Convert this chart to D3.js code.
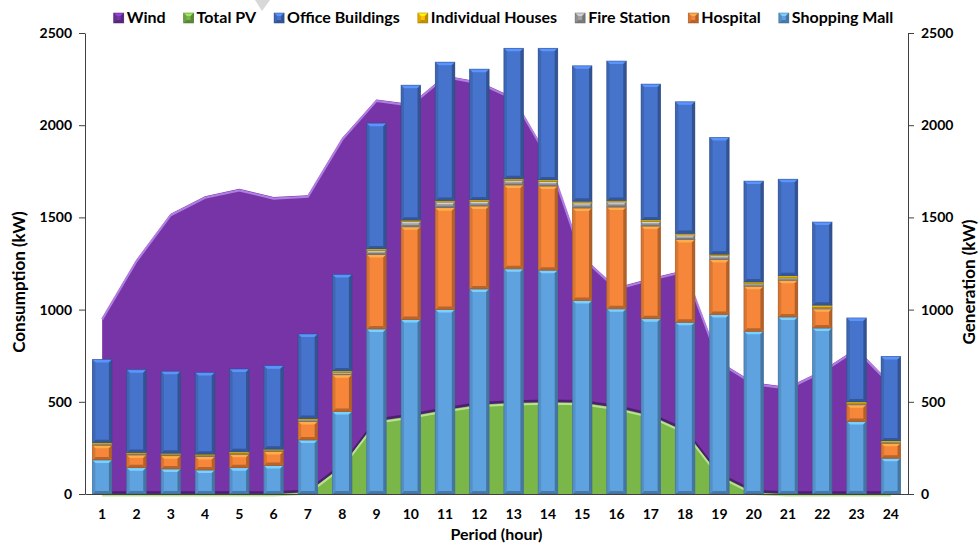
<!DOCTYPE html>
<html>
<head>
<meta charset="utf-8">
<script src="https://cdn.jsdelivr.net/npm/d3@7"></script>
<style>
  body { margin: 0; background: #fff; }
  svg text { font-family: Lato, "Open Sans", sans-serif; font-weight: bold; fill: #000; }
</style>
</head>
<body>
<svg id="chart" width="979" height="545"></svg>
<script>
// hours on the x axis
var hours = ["1","2","3","4","5","6","7","8","9","10","11","12","13","14","15","16","17","18","19","20","21","22","23","24"]

// generation (kW)
var wind    = [955, 1270, 1520, 1615, 1655, 1610, 1620, 1930, 2140, 2115, 2270, 2235, 2150, 1830, 1290, 1120, 1170, 1215, 720, 605, 580, 670, 790, 600]
var totalPV = [0, 0, 0, 0, 0, 0, 10, 150, 395, 422, 455, 484, 494, 497, 495, 468, 425, 340, 100, 8, 0, 0, 0, 0]

// consumption (kW), stacked bottom to top
var shoppingMall     = [185, 143, 136, 130, 143, 154, 293, 447, 895, 946, 1000, 1112, 1221, 1214, 1049, 1004, 951, 931, 973, 882, 960, 900, 393, 194]
var hospital         = [80, 69, 72, 73, 73, 76, 100, 200, 404, 503, 553, 450, 455, 456, 502, 552, 502, 449, 299, 245, 199, 104, 91, 81]
var fireStation      = [5, 5, 5, 5, 5, 5, 8, 12, 22, 28, 30, 25, 25, 25, 28, 28, 25, 25, 20, 12, 12, 8, 5, 5]
var individualHouses = [8, 8, 8, 8, 8, 8, 8, 8, 8, 8, 8, 8, 8, 8, 8, 8, 8, 8, 8, 10, 12, 12, 10, 8]
var officeBuildings  = [452, 449, 444, 443, 449, 453, 459, 523, 682, 732, 751, 709, 708, 714, 735, 756, 737, 714, 633, 548, 524, 451, 456, 458]

var yTicks = [0, 500, 1000, 1500, 2000, 2500]

var stackNames = ["Shopping Mall", "Hospital", "Fire Station", "Individual Houses", "Office Buildings"]
var stackValues = [shoppingMall, hospital, fireStation, individualHouses, officeBuildings]
var legendNames = ["Wind", "Total PV", "Office Buildings", "Individual Houses", "Fire Station", "Hospital", "Shopping Mall"]

var colors = {
    "Wind": "#7634a6",
    "Total PV": "#7ab648",
    "Office Buildings": "#4673cb",
    "Individual Houses": "#ffc000",
    "Fire Station": "#a3a3a3",
    "Hospital": "#f5863a",
    "Shopping Mall": "#5fa2e0"
}

var plotLeft = 85, plotRight = 908, plotTop = 33, plotBottom = 494

var svg = d3.select("#chart")

var x = d3.scaleBand()
            .domain(hours)
            .range([plotLeft, plotRight])
            .paddingInner(0.43)
            .paddingOuter(0.215)

var y = d3.scaleLinear()
            .domain([0, 2500])
            .range([plotBottom, plotTop])

var cx = function (h) { return x(h) + x.bandwidth() / 2 }

// table for the stack
var table = hours.map(function (h, i) {
    var row = { hour: h }
    stackNames.forEach(function (n, k) { row[n] = stackValues[k][i] })
    return row
})

var windData = hours.map(function (h, i) { return { h: h, v: wind[i] } })
var pvData = hours.map(function (h, i) { return { h: h, v: totalPV[i] } })

var area = d3.area()
                .x(function (d) { return cx(d.h) })
                .y0(y(0))
                .y1(function (d) { return y(d.v) })
var line = d3.line()
                .x(function (d) { return cx(d.h) })
                .y(function (d) { return y(d.v) })

// wind area
svg.append("path")
    .datum(windData)
    .attr("d", area)
    .attr("fill", colors["Wind"])
svg.append("path")
    .datum(windData)
    .attr("d", line)
    .attr("fill", "none")
    .attr("stroke", "#b07de0")
    .attr("stroke-width", 2.2)
    .attr("transform", "translate(0,1.5)")

// PV area
svg.append("path")
    .datum(pvData)
    .attr("d", line)
    .attr("fill", "none")
    .attr("stroke", "#3b1858")
    .attr("stroke-opacity", 0.7)
    .attr("stroke-width", 2.5)
    .attr("transform", "translate(0,-1.5)")
svg.append("path")
    .datum(pvData)
    .attr("d", area)
    .attr("fill", colors["Total PV"])
svg.append("path")
    .datum(pvData)
    .attr("d", line)
    .attr("fill", "none")
    .attr("stroke", "#b8e48e")
    .attr("stroke-width", 2)
    .attr("transform", "translate(0,1.5)")

// bevelled box like the Excel 3-D effect
function bevel(g, x0, y0, w, h, color) {
    var c = d3.color(color)
    var b = Math.min(3, h / 3)
    g.append("rect")
        .attr("x", x0).attr("y", y0)
        .attr("width", w).attr("height", h)
        .attr("fill", color)
    g.append("polygon")
        .attr("points", [[x0, y0], [x0 + w, y0], [x0 + w - b, y0 + b], [x0 + b, y0 + b]].join(" "))
        .attr("fill", c.brighter(0.7))
    g.append("polygon")
        .attr("points", [[x0, y0 + h], [x0 + w, y0 + h], [x0 + w - b, y0 + h - b], [x0 + b, y0 + h - b]].join(" "))
        .attr("fill", c.darker(0.8))
    g.append("polygon")
        .attr("points", [[x0, y0], [x0 + b, y0 + b], [x0 + b, y0 + h - b], [x0, y0 + h]].join(" "))
        .attr("fill", c.darker(0.35))
    g.append("polygon")
        .attr("points", [[x0 + w, y0], [x0 + w - b, y0 + b], [x0 + w - b, y0 + h - b], [x0 + w, y0 + h]].join(" "))
        .attr("fill", c.darker(0.9))
    g.append("rect")
        .attr("x", x0).attr("y", y0)
        .attr("width", w).attr("height", h)
        .attr("fill", "none")
        .attr("stroke", c.darker(1.4))
        .attr("stroke-opacity", 0.6)
        .attr("stroke-width", 0.8)
}

var series = d3.stack().keys(stackNames)(table)
var barGroup = svg.append("g").attr("class", "bars")

series.forEach(function (s) {
    s.forEach(function (d) {
        var y1 = y(d[1]), y0 = y(d[0])
        bevel(barGroup, x(d.data.hour), y1, x.bandwidth(), y0 - y1, colors[s.key])
    })
})

// axes
var fmt = d3.format("d")
var yLeft = d3.axisLeft(y).tickValues(yTicks).tickFormat(fmt).tickSize(6).tickSizeOuter(0).tickPadding(7)
var yRight = d3.axisRight(y).tickValues(yTicks).tickFormat(fmt).tickSize(6).tickSizeOuter(0).tickPadding(7)
var xAxis = d3.axisBottom(x).tickSize(0).tickSizeOuter(0).tickPadding(15)

function styleAxis(g) {
    g.selectAll("path, line").attr("stroke", "#404040")
    g.selectAll("text").style("font-size", "14px").attr("fill", "#000")
}

svg.append("g")
    .attr("transform", "translate(" + plotLeft + ",0)")
    .call(yLeft)
    .call(styleAxis)
svg.append("g")
    .attr("transform", "translate(" + plotRight + ",0)")
    .call(yRight)
    .call(styleAxis)
svg.append("g")
    .attr("transform", "translate(0," + plotBottom + ")")
    .call(xAxis)
    .call(styleAxis)

// titles
svg.append("text")
    .attr("x", (plotLeft + plotRight) / 2)
    .attr("y", 540)
    .attr("text-anchor", "middle")
    .style("font-size", "16px")
    .text("Period (hour)")

svg.append("text")
    .attr("transform", "translate(25,282) rotate(-90)")
    .attr("text-anchor", "middle")
    .style("font-size", "17px")
    .text("Consumption (kW)")

svg.append("text")
    .attr("transform", "translate(975,282) rotate(-90)")
    .attr("text-anchor", "middle")
    .style("font-size", "17px")
    .text("Generation (kW)")

// legend
var legend = svg.append("g").attr("class", "legend")
var lx = 0
legendNames.forEach(function (n) {
    var item = legend.append("g").attr("transform", "translate(" + lx + ",0)")
    bevel(item, 0, -10, 10, 10, colors[n])
    var t = item.append("text")
        .attr("x", 13)
        .attr("y", 0)
        .style("font-size", "16px")
        .text(n)
    lx += 13 + t.node().getComputedTextLength() + 18
})
var legendWidth = lx - 18
legend.attr("transform", "translate(" + ((115 + 892) / 2 - legendWidth / 2) + ",23)")

// faint pointer mark at the top of the plot
svg.append("polygon")
    .attr("points", "255,0 270,0 262,11")
    .attr("fill", "#d8d8d8")
</script>
</body>
</html>
